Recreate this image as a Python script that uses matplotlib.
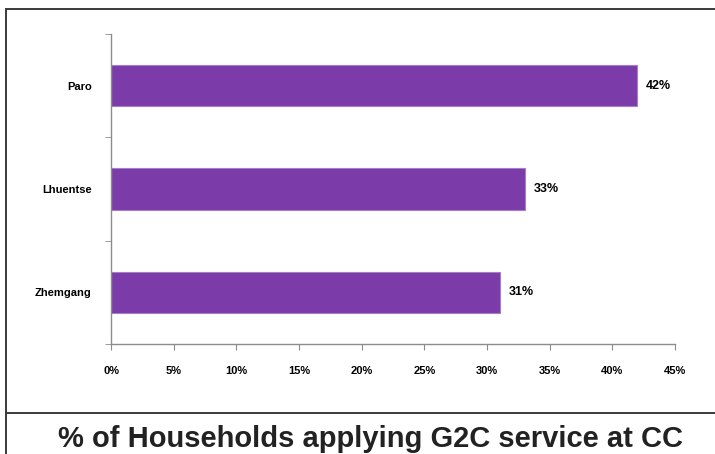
import matplotlib.pyplot as plt
from matplotlib.patches import Rectangle
from matplotlib.lines import Line2D
from matplotlib.ticker import FixedLocator

plt.rcParams['font.family'] = ['Liberation Sans', 'DejaVu Sans']

# share of households applying for G2C services at community centres
districts = ['Zhemgang', 'Lhuentse', 'Paro']
share_pct = [31, 33, 42]
x_ticks = [0, 5, 10, 15, 20, 25, 30, 35, 40, 45]
title = '% of Households applying G2C service at CC'

bar_color = '#7B3BA8'
spine_color = '#8c8c8c'

fig = plt.figure(figsize=(7.15, 4.54), dpi=100)

# outer frame and the rule above the title
fig.patches.append(Rectangle((6 / 715, -0.01), 1.0, 1 - 9 / 454 + 0.01,
                             transform=fig.transFigure, fill=False,
                             edgecolor='#3a3a3a', linewidth=1.4))
fig.lines.append(Line2D([6 / 715, 1.0], [1 - 413 / 454] * 2,
                        transform=fig.transFigure, color='#3a3a3a', linewidth=1.4))

ax = fig.add_axes([111 / 715, 1 - 344 / 454, 564 / 715, 310 / 454])
ypos = range(len(districts))
ax.barh(ypos, share_pct, height=0.4, color=bar_color,
        edgecolor='#a37fc6', linewidth=0.8)

for y, v in zip(ypos, share_pct):
    ax.text(v + 0.7, y, f'{v}%', va='center', ha='left',
            fontsize=9, fontweight='heavy', color='black')

ax.set_xlim(0, 45)
ax.set_ylim(-0.5, len(districts) - 0.5)
ax.set_xticks(x_ticks)
ax.set_xticklabels([f'{t}%' for t in x_ticks], fontsize=8, fontweight='heavy')
ax.set_yticks(list(ypos))
ax.set_yticklabels(districts, fontsize=8, fontweight='heavy')
ax.yaxis.set_minor_locator(FixedLocator([-0.5, 0.5, 1.5, 2.5]))
ax.tick_params(axis='y', which='major', length=0, pad=14)
ax.tick_params(axis='y', which='minor', length=4, color=spine_color, direction='out')
ax.tick_params(axis='x', length=4, color=spine_color, pad=12)

for side in ('top', 'right'):
    ax.spines[side].set_visible(False)
for side in ('left', 'bottom'):
    ax.spines[side].set_color(spine_color)
    ax.spines[side].set_linewidth(1.0)

fig.text(370 / 715, 1 - 447 / 454, title, ha='center', va='baseline',
         fontsize=21, fontweight='bold', color='#222222')

fig.savefig('out.png', dpi=100)
